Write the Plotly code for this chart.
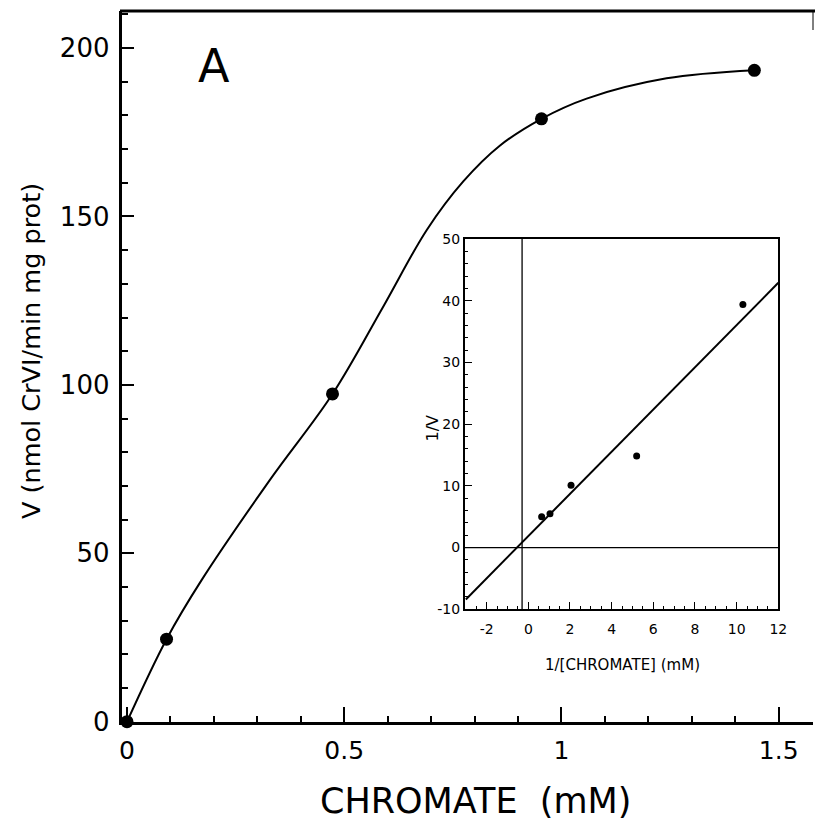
import plotly.graph_objects as go

# ---------------- data ----------------
# Main panel: measured points
conc_mM = [0.0, 0.091, 0.473, 0.954, 1.444]
rate_V = [0.0, 24.5, 97.3, 179.0, 193.4]

# Main panel: smooth fitted curve
curve_x = [0.0, 0.091, 0.172, 0.329, 0.473, 0.590, 0.690, 0.774, 0.858, 0.954, 1.058, 1.242, 1.444]
curve_y = [0.0, 24.5, 42.1, 71.8, 97.3, 123.3, 146.0, 160.4, 171.0, 179.0, 185.0, 191.0, 193.4]

# Inset: Lineweaver-Burk points
inv_conc = [0.64, 1.04, 2.05, 5.2, 10.3]
inv_V = [5.0, 5.5, 10.1, 14.85, 39.4]

# Inset: regression line end points
fit_x = [-3.0, 12.0]
fit_y = [-8.4, 42.9]

x_ticks_main = [0, 0.5, 1, 1.5]
x_ticklabels_main = ["0", "0.5", "1", "1.5"]
y_ticks_main = [0, 50, 100, 150, 200]
x_ticks_inset = [-2, 0, 2, 4, 6, 8, 10, 12]
x_ticklabels_inset = ["-2", "0", "2", "4", "6", "8", "10", "12"]
y_ticks_inset = [-10, 0, 10, 20, 30, 40, 50]
y_ticklabels_inset = ["-10", "0", "10", "20", "30", "40", "50"]

# ---------------- layout helpers ----------------
W, H = 815, 821
FONT = "DejaVu Sans"


def px(x):
    return x / W


def py(y):
    return 1 - y / H


fig = go.Figure()

fig.add_trace(go.Scatter(x=curve_x, y=curve_y, mode="lines",
                         line=dict(color="black", width=2, shape="spline", smoothing=1.0),
                         cliponaxis=False, showlegend=False, hoverinfo="skip"))
fig.add_trace(go.Scatter(x=conc_mM, y=rate_V, mode="markers", marker=dict(color="black", size=13),
                         cliponaxis=False, showlegend=False))

fig.add_trace(go.Scatter(x=fit_x, y=fit_y, mode="lines", line=dict(color="black", width=2),
                         xaxis="x2", yaxis="y2", cliponaxis=True, showlegend=False, hoverinfo="skip"))
fig.add_trace(go.Scatter(x=inv_conc, y=inv_V, mode="markers", marker=dict(color="black", size=7),
                         xaxis="x2", yaxis="y2", cliponaxis=False, showlegend=False))

fig.update_layout(
    width=W, height=H, autosize=False,
    margin=dict(l=0, r=0, t=0, b=0, autoexpand=False),
    paper_bgcolor="white", plot_bgcolor="rgba(0,0,0,0)",
    font=dict(family=FONT, color="black"),
    xaxis=dict(
        domain=[px(121.7), px(813)], range=[-0.0122, 1.579], automargin=False,
        showgrid=False, zeroline=False, showline=True, linewidth=3, linecolor="black",
        ticks="inside", ticklen=15, tickwidth=1.5, tickcolor="black",
        tickvals=x_ticks_main, ticktext=x_ticklabels_main,
        tickfont=dict(size=25, family=FONT), ticklabelstandoff=4,
        minor=dict(ticks="inside", ticklen=6, tickwidth=1.5, dtick=0.1, tickcolor="black", showgrid=False),
        anchor="y",
    ),
    yaxis=dict(
        domain=[py(721.7), py(11)], range=[0, 211], automargin=False,
        showgrid=False, zeroline=False, showline=True, linewidth=3, linecolor="black",
        ticks="inside", ticklen=12, tickwidth=1.5, tickcolor="black",
        tickvals=y_ticks_main,
        tickfont=dict(size=26, family=FONT), ticklabelstandoff=4,
        minor=dict(ticks="inside", ticklen=6, tickwidth=1.5, dtick=10, tickcolor="black", showgrid=False),
        anchor="x",
    ),
    xaxis2=dict(
        domain=[px(465), px(778.3)], range=[-3.04, 12.0], automargin=False,
        showgrid=False, zeroline=False, showline=True, linewidth=2, linecolor="black", mirror=True,
        ticks="inside", ticklen=7, tickwidth=1, tickcolor="black",
        tickvals=x_ticks_inset, ticktext=x_ticklabels_inset,
        tickfont=dict(size=14, family=FONT), ticklabelstandoff=6,
        minor=dict(ticks="inside", ticklen=3, tickwidth=1, dtick=0.5, tickcolor="black", showgrid=False),
        anchor="y2",
    ),
    yaxis2=dict(
        domain=[py(609.3), py(239)], range=[-10, 50], automargin=False,
        showgrid=False, zeroline=False, showline=True, linewidth=2, linecolor="black", mirror=True,
        ticks="inside", ticklen=7, tickwidth=1, tickcolor="black",
        tickvals=y_ticks_inset, ticktext=y_ticklabels_inset,
        tickfont=dict(size=14, family=FONT), ticklabelstandoff=0,
        minor=dict(ticks="inside", ticklen=3, tickwidth=1, dtick=2, tickcolor="black", showgrid=False),
        anchor="x2",
    ),
)

# frame top line and right edge remnant of main panel
fig.add_shape(type="line", xref="paper", yref="paper", x0=px(120), x1=1.0, y0=py(11), y1=py(11),
              line=dict(color="black", width=3))
fig.add_shape(type="line", xref="paper", yref="paper", x0=px(813), x1=px(813), y0=py(11), y1=py(30),
              line=dict(color="black", width=1))

# inset reference axes
fig.add_shape(type="line", xref="x2", yref="y2", x0=-3.04, x1=12.1, y0=0, y1=0,
              line=dict(color="black", width=1.3))
fig.add_shape(type="line", xref="x2", yref="y2", x0=-0.3, x1=-0.3, y0=-10, y1=50,
              line=dict(color="black", width=1.3))

annotations = [
    dict(text="A", x=px(214.5), y=py(66), font=dict(size=46, family=FONT)),
    dict(text="CHROMATE&nbsp;&nbsp;(mM)", x=px(476), y=py(801), font=dict(size=35, family=FONT)),
    dict(text="V (nmol CrVI/min mg prot)", x=px(31), y=py(351), textangle=-90, font=dict(size=25.5, family=FONT)),
    dict(text="1/[CHROMATE] (mM)", x=px(622.5), y=py(665), font=dict(size=15, family=FONT)),
    dict(text="1/V", x=px(431.5), y=py(428), textangle=-90, font=dict(size=16, family=FONT)),
]
for a in annotations:
    fig.add_annotation(xref="paper", yref="paper", showarrow=False, xanchor="center", yanchor="middle", **a)

fig.write_html(
    "out.html",
    config={"responsive": False},
    post_script="document.documentElement.style.overflow='hidden';document.body.style.overflow='hidden';document.body.style.margin='0';",
)
